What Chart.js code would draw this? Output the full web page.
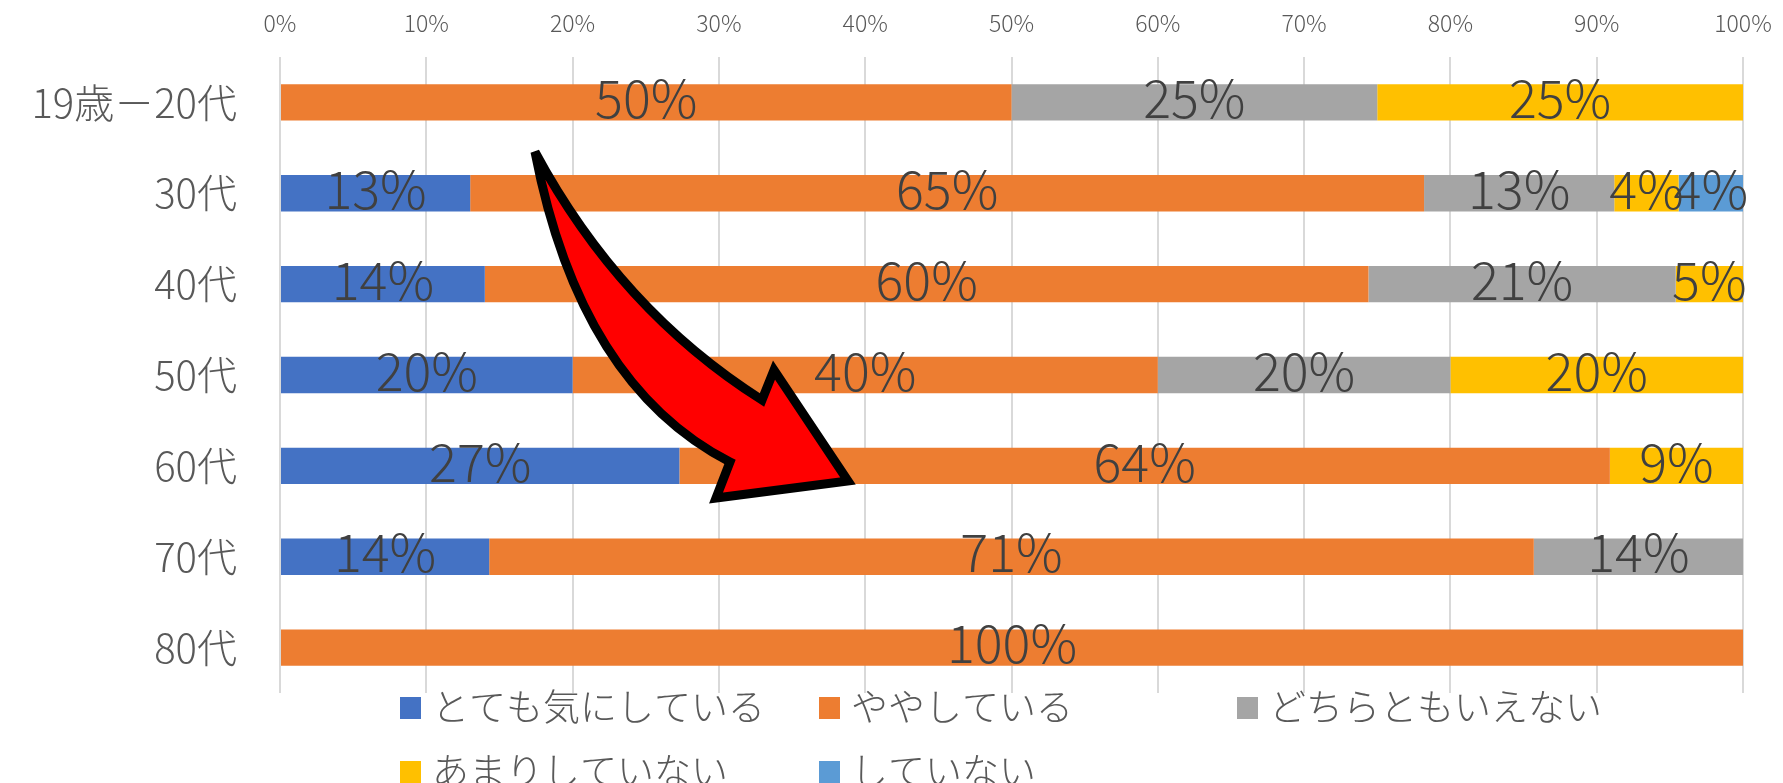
<!DOCTYPE html>
<html>
<head>
<meta charset="utf-8">
<script src="https://cdn.jsdelivr.net/npm/chart.js@4/dist/chart.umd.min.js"></script>
<style>
html,body{margin:0;padding:0;background:#fff;}
canvas{display:block;}
</style>
</head>
<body>
<canvas id="c" width="1783" height="783"></canvas>
<script>
// ---- data ----
const categories = ['19歳－20代', '30代', '40代', '50代', '60代', '70代', '80代'];
const seriesNames = ['とても気にしている', 'ややしている', 'どちらともいえない', 'あまりしていない', 'していない'];
const veryMuch = [0, 13.0, 14.0, 20, 27.3, 14.3, 0];
const somewhat = [50, 65.2, 60.4, 40, 63.6, 71.4, 100];
const neutral  = [25, 13.0, 21.0, 20, 0, 14.3, 0];
const notMuch  = [25, 4.4, 4.6, 20, 9.1, 0, 0];
const notAtAll = [0, 4.4, 0, 0, 0, 0, 0];
const tickValues = [0, 10, 20, 30, 40, 50, 60, 70, 80, 90, 100];
const seriesColors = ['#4472C4', '#ED7D31', '#A5A5A5', '#FFC000', '#5B9BD5'];

const FONT = '"Noto Sans CJK JP", "Noto Sans", sans-serif';

const dataLabelPlugin = {
  id: 'dataLabels',
  afterDatasetsDraw(chart) {
    const ctx = chart.ctx;
    ctx.save();
    ctx.font = '300 52px ' + FONT;
    ctx.fillStyle = '#404040';
    ctx.textAlign = 'center';
    ctx.textBaseline = 'middle';
    chart.data.datasets.forEach((ds, i) => {
      const meta = chart.getDatasetMeta(i);
      meta.data.forEach((bar, j) => {
        const v = ds.data[j];
        if (!v) return;
        const p = bar.getProps(['x', 'y', 'base'], true);
        ctx.fillText(Math.round(v) + '%', (p.x + p.base) / 2, p.y - 4);
      });
    });
    ctx.restore();
  }
};

const legendPlugin = {
  id: 'gridLegend',
  afterDraw(chart) {
    const ctx = chart.ctx;
    const cols = [400, 819, 1237];
    const rows = [708, 772];
    ctx.save();
    ctx.font = '300 37px ' + FONT;
    ctx.textBaseline = 'middle';
    ctx.textAlign = 'left';
    chart.data.datasets.forEach((ds, i) => {
      const c = i % 3, r = Math.floor(i / 3);
      const x = cols[c], y = rows[r];
      ctx.fillStyle = ds.backgroundColor;
      ctx.fillRect(x, y - 11, 21, 22);
      ctx.fillStyle = '#595959';
      ctx.fillText(ds.label, x + 32, y - 1);
    });
    ctx.restore();
  }
};

const arrowPlugin = {
  id: 'arrow',
  afterDraw(chart) {
    const ctx = chart.ctx;
    ctx.save();
    ctx.beginPath();
    ctx.moveTo(535, 152);
    ctx.quadraticCurveTo(580, 385, 730, 462);
    ctx.lineTo(716, 498);
    ctx.lineTo(848, 481);
    ctx.lineTo(774, 370);
    ctx.lineTo(762, 400);
    ctx.quadraticCurveTo(620, 310, 535, 152);
    ctx.closePath();
    ctx.fillStyle = '#FF0000';
    ctx.fill();
    ctx.lineWidth = 9;
    ctx.lineJoin = 'miter';
    ctx.miterLimit = 3;
    ctx.strokeStyle = '#000000';
    ctx.stroke();
    ctx.restore();
  }
};

const seriesData = [veryMuch, somewhat, neutral, notMuch, notAtAll];

new Chart(document.getElementById('c'), {
  type: 'bar',
  data: {
    labels: categories,
    datasets: seriesNames.map((name, i) => ({
      label: name,
      data: seriesData[i],
      backgroundColor: seriesColors[i],
      borderWidth: 0,
      categoryPercentage: 1,
      barPercentage: 0.4
    }))
  },
  options: {
    indexAxis: 'y',
    responsive: false,
    devicePixelRatio: 1,
    animation: false,
    layout: { padding: { top: 0, left: 0, right: 40, bottom: 90 } },
    plugins: {
      legend: { display: false },
      tooltip: { enabled: false }
    },
    scales: {
      x: {
        stacked: true,
        position: 'top',
        min: 0,
        max: 100,
        afterBuildTicks(scale) { scale.ticks = tickValues.map(v => ({ value: v })); },
        afterFit(scale) {
          scale.height = 57;
          scale.paddingLeft = 0; scale.paddingRight = 0;
          scale.paddingTop = 0; scale.paddingBottom = 0;
        },
        ticks: {
          callback: v => v + '%',
          color: '#595959',
          font: { family: FONT, size: 23, weight: '300' },
          padding: 20,
          maxRotation: 0,
          autoSkip: false
        },
        grid: { color: '#D9D9D9', lineWidth: 2, drawTicks: false },
        border: { display: false }
      },
      y: {
        stacked: true,
        afterFit(scale) {
          scale.width = 280;
          scale.paddingLeft = 0; scale.paddingRight = 0;
          scale.paddingTop = 0; scale.paddingBottom = 0;
        },
        ticks: {
          color: '#595959',
          font: { family: FONT, size: 40, weight: '300' },
          padding: 43
        },
        grid: { display: false, drawTicks: false },
        border: { display: false }
      }
    }
  },
  plugins: [dataLabelPlugin, legendPlugin, arrowPlugin]
});
</script>
</body>
</html>
